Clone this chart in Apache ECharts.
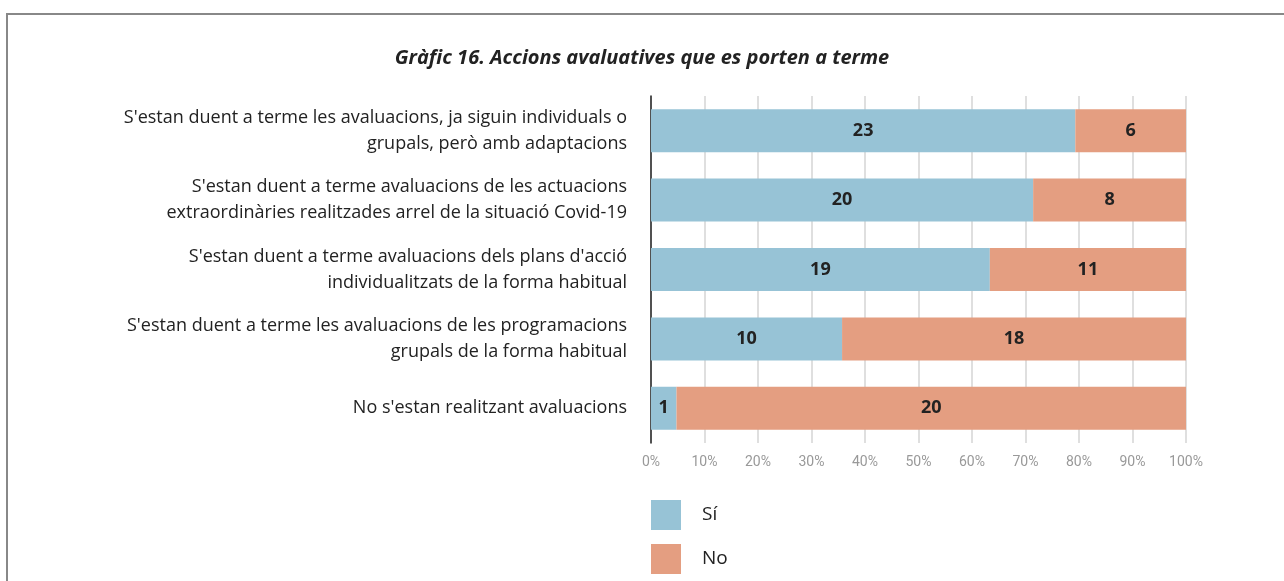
<!DOCTYPE html>
<html><head><meta charset="utf-8">
<script src="https://cdn.jsdelivr.net/npm/echarts@6/dist/echarts.min.js"></script>
<style>html,body{margin:0;padding:0;background:#fff}#c{width:1284px;height:581px}</style>
</head><body><div id="c"></div>
<script>
const titleText = "Gràfic 16. Accions avaluatives que es porten a terme";
const categories = [
  "S'estan duent a terme les avaluacions, ja siguin individuals o\ngrupals, però amb adaptacions",
  "S'estan duent a terme avaluacions de les actuacions\nextraordinàries realitzades arrel de la situació Covid-19",
  "S'estan duent a terme avaluacions dels plans d'acció\nindividualitzats de la forma habitual",
  "S'estan duent a terme les avaluacions de les programacions\ngrupals de la forma habitual",
  "No s'estan realitzant avaluacions"
];
const seriesNames = ['Sí', 'No'];
const siValues = [23, 20, 19, 10, 1];
const noValues = [6, 8, 11, 18, 20];
const tickLabels = ["0%","10%","20%","30%","40%","50%","60%","70%","80%","90%","100%"];

const totals = siValues.map((v,i)=>v+noValues[i]);
const siPct = siValues.map((v,i)=>({value: v/totals[i]*100, count: v}));
const noPct = noValues.map((v,i)=>({value: v/totals[i]*100, count: v}));

const chart = echarts.init(document.getElementById('c'), null, {renderer:'canvas'});
const font = '"Open Sans", sans-serif';
const labelStyle = {show:true, position:'inside', formatter: p => p.data.count,
  fontSize:18, fontWeight:'bold', color:'#222', fontFamily:font};
const legendBase = {orient:'vertical', left:651, padding:0, itemWidth:30, itemHeight:30,
  icon:'rect', textStyle:{fontSize:19, color:'#222', padding:[0,0,0,16], fontFamily:font}};
chart.setOption({
  animation:false,
  title:{text:titleText, left:'center', top:43,
    textStyle:{fontSize:20, fontWeight:'bold', fontStyle:'italic', color:'#222', fontFamily:font}},
  graphic:[
    {type:'polyline', shape:{points:[[7,581],[7,14],[1284,14]]}, style:{stroke:'#888', lineWidth:2, fill:null}}
  ],
  grid:{left:651, width:535, top:96, height:347, containLabel:false},
  legend:[
    Object.assign({}, legendBase, {top:500, data:[seriesNames[0]]}),
    Object.assign({}, legendBase, {top:544, data:[seriesNames[1]]})
  ],
  xAxis:{type:'value', min:0, max:100, interval:10,
    axisLabel:{formatter:(v)=>tickLabels[Math.round(v/10)], color:'#999', fontSize:14, margin:12,
      fontFamily:'"Liberation Sans Narrow", "Roboto", sans-serif'},
    axisLine:{show:false}, axisTick:{show:false},
    splitLine:{show:true, lineStyle:{color:'#d4d4d4', width:1.5}}},
  yAxis:{type:'category', data:categories, inverse:true,
    axisLine:{show:true, lineStyle:{color:'#222', width:1.5}}, axisTick:{show:false},
    axisLabel:{fontSize:18, color:'#222', margin:24, lineHeight:26, align:'right',
      fontFamily:font}},
  series:[
    {name:seriesNames[0], type:'bar', stack:'t', barWidth:43, data:siPct, itemStyle:{color:'#97c3d6'}, label:labelStyle},
    {name:seriesNames[1], type:'bar', stack:'t', barWidth:43, data:noPct, itemStyle:{color:'#e49e81'}, label:labelStyle}
  ]
});
</script></body></html>
